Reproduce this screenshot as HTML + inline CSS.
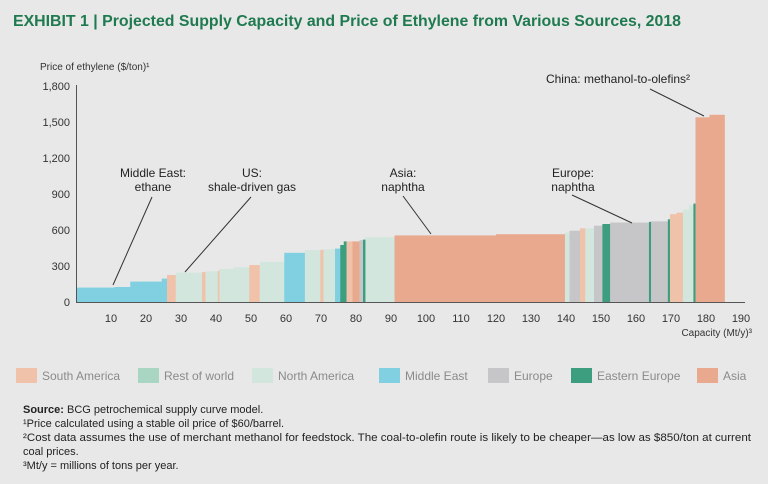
<!DOCTYPE html>
<html><head><meta charset="utf-8"><style>
html,body{margin:0;padding:0;background:#e8e8e9;}
svg{display:block;font-family:"Liberation Sans",sans-serif;}
</style></head><body>
<svg id="chart" width="768" height="484" viewBox="0 0 768 484">
<rect width="768" height="484" fill="#e8e8e9"/>
<text x="13" y="26" font-size="16" font-weight="bold" fill="#1f7a4f" textLength="668" lengthAdjust="spacingAndGlyphs">EXHIBIT 1 | Projected Supply Capacity and Price of Ethylene from Various Sources, 2018</text>
<text x="40" y="70" font-size="10" fill="#333">Price of ethylene ($/ton)¹</text>
<text x="752" y="336" font-size="10" fill="#333" text-anchor="end">Capacity (Mt/y)³</text>
<g id="bars"></g>
<g id="axes"></g>
<g id="annot" font-size="12" fill="#222" text-anchor="middle">
<text x="153" y="177"><tspan x="153">Middle East:</tspan><tspan x="153" dy="14">ethane</tspan></text>
<line x1="152" y1="197" x2="113" y2="285" stroke="#333" stroke-width="1"/>
<text x="252" y="177"><tspan x="252">US:</tspan><tspan x="252" dy="14">shale-driven gas</tspan></text>
<line x1="251" y1="197" x2="185" y2="272" stroke="#333" stroke-width="1"/>
<text x="403" y="177"><tspan x="403">Asia:</tspan><tspan x="403" dy="14">naphtha</tspan></text>
<line x1="403" y1="196" x2="431" y2="234" stroke="#333" stroke-width="1"/>
<text x="573" y="177"><tspan x="573">Europe:</tspan><tspan x="573" dy="14">naphtha</tspan></text>
<line x1="572" y1="195" x2="632" y2="223" stroke="#333" stroke-width="1"/>
<text x="618" y="83">China: methanol-to-olefins²</text>
<line x1="650" y1="89" x2="704" y2="116" stroke="#333" stroke-width="1"/>
</g>
<g id="legend" font-size="12" fill="#8a8a8a"></g>
<g font-size="11" fill="#222">
<text x="23" y="413"><tspan font-weight="bold">Source:</tspan> BCG petrochemical supply curve model.</text>
<text x="23" y="427">¹Price calculated using a stable oil price of $60/barrel.</text>
<text x="23" y="441" textLength="728" lengthAdjust="spacingAndGlyphs">²Cost data assumes the use of merchant methanol for feedstock. The coal-to-olefin route is likely to be cheaper—as low as $850/ton at current</text>
<text x="23" y="455">coal prices.</text>
<text x="23" y="469">³Mt/y = millions of tons per year.</text>
</g>
</svg>
<script>
const widths = [11,4.5,9,1.5,2.5,7.5,1,3.5,0.5,4,4.5,3,7,5.9,4.4,0.9,3.3,1.5,1,0.8,1.7,2,1,0.7,8.3,29,19.7,1.3,3,1.5,2.5,2.4,2.2,11.1,0.6,4.8,0.6,1.9,1.8,1.7,1.3,0.6,4,4.3];
const prices = [120,125,170,195,225,245,250,255,260,275,290,308,335,410,433,435,440,445,475,505,505,505,515,520,540,555,565,578,594,614,615,636,650,662,668,672,689,732,745,770,805,820,1539,1560];
const regions = ['me','me','me','me','sa','na','sa','na','sa','na','na','sa','na','me','na','sa','na','me','ee','ee','sa','asia','eu','ee','na','asia','asia','na','eu','sa','na','eu','ee','eu','ee','eu','ee','sa','sa','na','na','ee','asia','asia'];
const yTicks = [0,300,600,900,1200,1500,1800];
const yTickLabels = ['0','300','600','900','1,200','1,500','1,800'];
const xTicks = [10,20,30,40,50,60,70,80,90,100,110,120,130,140,150,160,170,180,190];
const legendKeys = ['sa','row','na','me','eu','ee','asia'];
const legendLabels = ['South America','Rest of world','North America','Middle East','Europe','Eastern Europe','Asia'];
const colors = {sa:'#f0c2aa',row:'#a9d6c3',na:'#d3e6de',me:'#80d0e2',eu:'#c6c6c8',ee:'#3c9e7f',asia:'#e8a98e'};
const NS='http://www.w3.org/2000/svg';
const x = v => 76 + v*3.5;
const y = v => 302 - v*0.12;
function mk(tag, attrs, parent){const e=document.createElementNS(NS,tag);for(const k in attrs)e.setAttribute(k,attrs[k]);parent.appendChild(e);return e;}
const bars=document.getElementById('bars');
let cum=0;
widths.forEach((w,i)=>{
  const r=mk('rect',{x:x(cum),y:y(prices[i]),width:Math.max(0.5,x(cum+w)-x(cum)+0.3),height:y(0)-y(prices[i]),fill:colors[regions[i]]},bars);
  
  
  cum+=w;
});
const axes=document.getElementById('axes');
const ya=mk('line',{x1:76.5,y1:85,x2:76.5,y2:302.5,stroke:'#555','stroke-width':1},axes);


const xa=mk('line',{x1:76,y1:302.5,x2:745,y2:302.5,stroke:'#555','stroke-width':1},axes);


yTicks.forEach((t,i)=>{
  const tx=mk('text',{x:70,y:y(t)+4,'font-size':11,fill:'#333','text-anchor':'end'},axes);
  tx.textContent=yTickLabels[i];
  
  
});
xTicks.forEach(t=>{
  const tx=mk('text',{x:x(t),y:322,'font-size':11,fill:'#333','text-anchor':'middle'},axes);
  tx.textContent=t;
  
  
});
const lg=document.getElementById('legend');
const lx=[16,138,252,379,488,571,697];
legendKeys.forEach((k,i)=>{
  const g=mk('g',{},lg);
  
  
  mk('rect',{x:lx[i],y:368,width:21,height:15,fill:colors[k]},g);
  const t=mk('text',{x:lx[i]+26,y:380},g);
  t.textContent=legendLabels[i];
});
</script>
</body></html>
